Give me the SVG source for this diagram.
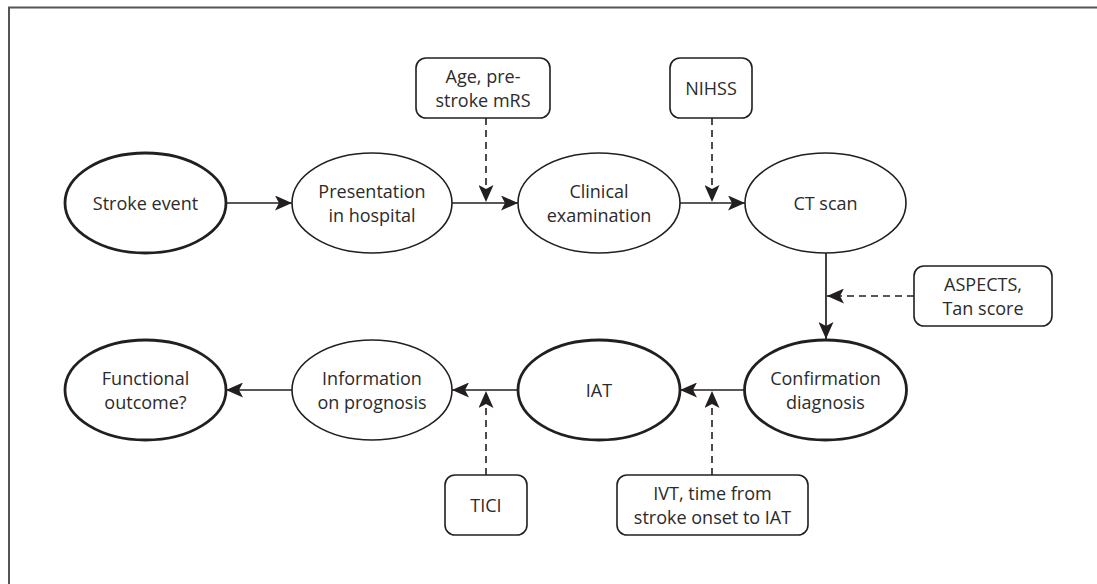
<svg xmlns="http://www.w3.org/2000/svg" width="1097" height="584" viewBox="0 0 1097 584">
<style>
text{font-family:"Open Sans","Liberation Sans",sans-serif;font-size:18px;fill:#2b2b2b;text-anchor:middle}
.thin{fill:#fff;stroke:#231f20;stroke-width:1.6}
.thick{fill:#fff;stroke:#231f20;stroke-width:2.8}
.box{fill:#fff;stroke:#231f20;stroke-width:1.6}
.solid{stroke:#231f20;stroke-width:1.7;fill:none}
.dash{stroke:#231f20;stroke-width:1.6;fill:none;stroke-dasharray:7 5}
</style>
<defs>
<marker id="ah" markerUnits="userSpaceOnUse" markerWidth="18" markerHeight="15" refX="17" refY="7.5" orient="auto">
<path d="M0,0 L17,7.5 L0,15 L4,7.5 z" fill="#231f20"/>
</marker>
</defs>
<path d="M9,584 L9,7.5 L1097,7.5" fill="none" stroke="#555" stroke-width="2"/>
<g id="connectors">
<line class="solid" x1="226" y1="203" x2="292" y2="203" marker-end="url(#ah)"/>
<line class="solid" x1="452" y1="203" x2="518" y2="203" marker-end="url(#ah)"/>
<line class="solid" x1="680" y1="203" x2="745" y2="203" marker-end="url(#ah)"/>
<line class="solid" x1="826" y1="253" x2="826" y2="339" marker-end="url(#ah)"/>
<line class="solid" x1="745" y1="390" x2="680" y2="390" marker-end="url(#ah)"/>
<line class="solid" x1="518" y1="390" x2="452" y2="390" marker-end="url(#ah)"/>
<line class="solid" x1="292" y1="390" x2="226" y2="390" marker-end="url(#ah)"/>
<line class="dash" x1="486" y1="118" x2="486" y2="202" marker-end="url(#ah)"/>
<line class="dash" x1="712" y1="118" x2="712" y2="202" marker-end="url(#ah)"/>
<line class="dash" x1="914" y1="296" x2="827" y2="296" marker-end="url(#ah)"/>
<line class="dash" x1="486" y1="475" x2="486" y2="391" marker-end="url(#ah)"/>
<line class="dash" x1="712" y1="475" x2="712" y2="391" marker-end="url(#ah)"/>
</g>
<g id="stroke-event"><ellipse class="thick" cx="145.5" cy="203" rx="80.5" ry="50"/><text x="145.5" y="209.5">Stroke event</text></g>
<g id="presentation"><ellipse class="thin" cx="372" cy="203" rx="80" ry="50"/><text x="372" y="197.5">Presentation</text><text x="372" y="222">in hospital</text></g>
<g id="clinical"><ellipse class="thin" cx="599" cy="203" rx="81" ry="50"/><text x="599" y="197.5">Clinical</text><text x="599" y="222">examination</text></g>
<g id="ct-scan"><ellipse class="thin" cx="825.5" cy="203" rx="80.5" ry="50"/><text x="825.5" y="209.5">CT scan</text></g>
<g id="confirmation"><ellipse class="thick" cx="825.5" cy="390" rx="81" ry="50"/><text x="825.5" y="384.5">Confirmation</text><text x="825.5" y="409">diagnosis</text></g>
<g id="iat"><ellipse class="thick" cx="599" cy="390" rx="81" ry="50"/><text x="599" y="396.5">IAT</text></g>
<g id="information"><ellipse class="thin" cx="372" cy="390" rx="80" ry="50"/><text x="372" y="384.5">Information</text><text x="372" y="409">on prognosis</text></g>
<g id="functional"><ellipse class="thick" cx="145.5" cy="390" rx="80.5" ry="50"/><text x="145.5" y="384.5">Functional</text><text x="145.5" y="409">outcome?</text></g>
<g id="age-box"><rect class="box" x="416" y="58" width="134" height="60" rx="10"/><text x="483" y="82.5">Age, pre-</text><text x="483" y="107">stroke mRS</text></g>
<g id="nihss-box"><rect class="box" x="670" y="58" width="82" height="60" rx="10"/><text x="711" y="94.5">NIHSS</text></g>
<g id="aspects-box"><rect class="box" x="914" y="266" width="138" height="60" rx="10"/><text x="983" y="290.5">ASPECTS,</text><text x="983" y="315">Tan score</text></g>
<g id="tici-box"><rect class="box" x="445" y="475" width="82" height="60" rx="10"/><text x="486" y="511.5">TICI</text></g>
<g id="ivt-box"><rect class="box" x="617" y="475" width="191" height="60" rx="10"/><text x="712.5" y="499.5">IVT, time from</text><text x="712.5" y="524">stroke onset to IAT</text></g>
</svg>
